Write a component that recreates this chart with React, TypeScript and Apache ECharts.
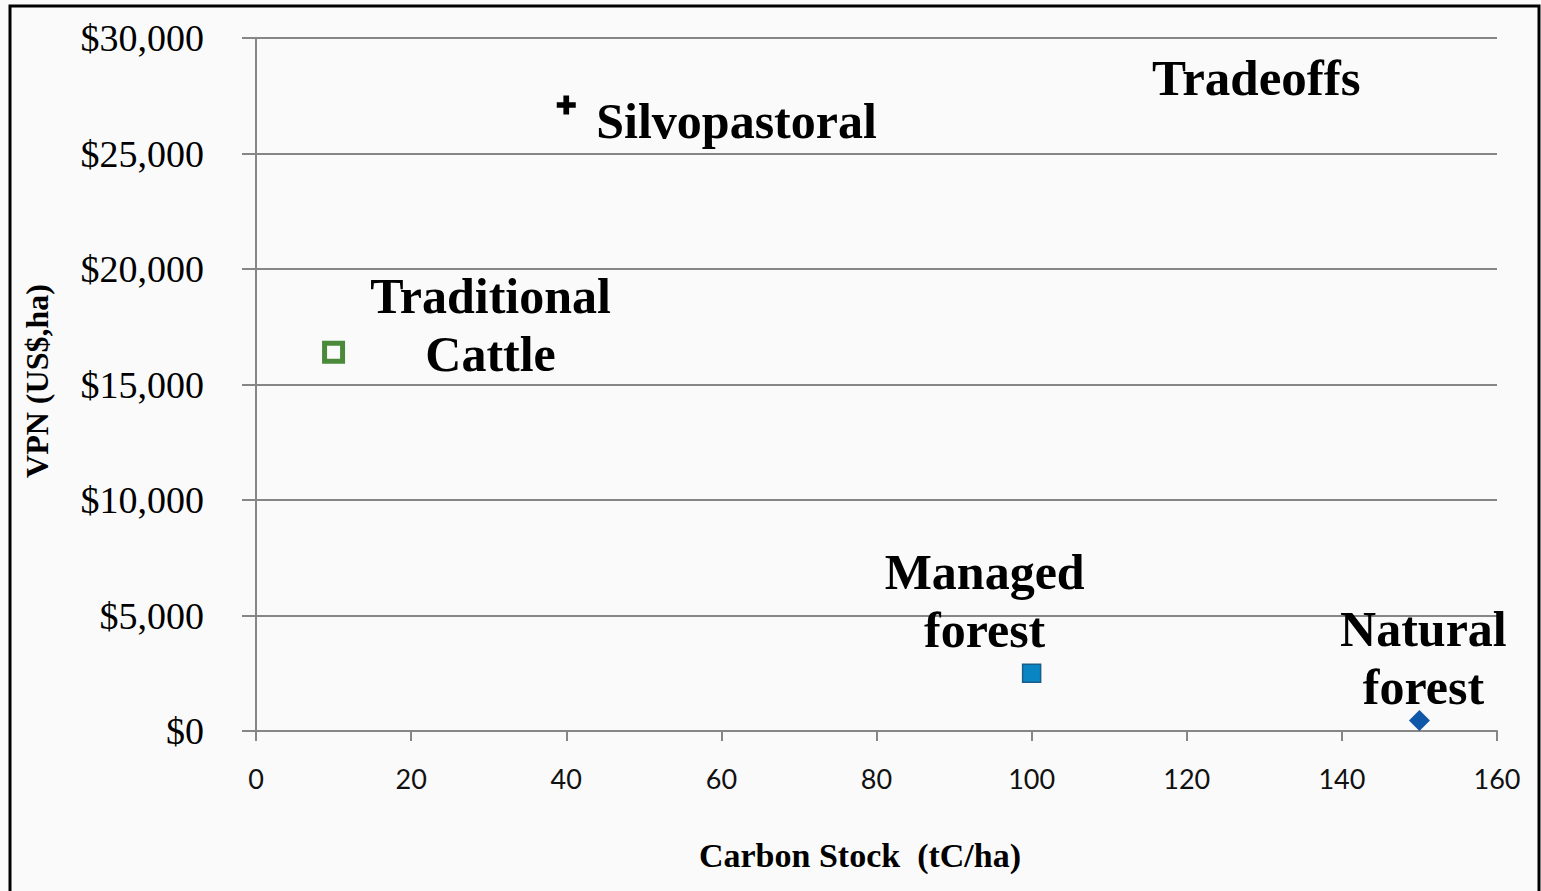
import React, { useEffect, useRef } from "react";
import * as echarts from "echarts";

// ---- data ----
const systems = ["Silvopastoral", "Traditional\nCattle", "Managed\nforest", "Natural\nforest"];
const carbonStock = [40, 10, 100, 150];
const vpnValues = [27100, 16400, 2500, 450];
const xTicks = { min: 0, max: 160, interval: 20 };
const yTicks = { min: 0, max: 30000, interval: 5000 };
const chartTitle = "Tradeoffs";
const xTitle = "Carbon Stock  (tC/ha)";
const yTitle = "VPN (US$,ha)";

const SERIF = "'Liberation Serif', 'Times New Roman', serif";
const PLUS = "path://M7,0H13V7H20V13H13V20H7V13H0V7H7Z";

const markerStyles = [
  { symbol: PLUS, symbolSize: 19, itemStyle: { color: "#000", opacity: 1 } },
  { symbol: "rect", symbolSize: 18, itemStyle: { color: "#fafafa", borderColor: "#4a8a3a", borderWidth: 5, opacity: 1 } },
  { symbol: "rect", symbolSize: 18, itemStyle: { color: "#0a85c4", borderColor: "#1b5d88", borderWidth: 1.5, opacity: 1 } },
  { symbol: "diamond", symbolSize: 21, itemStyle: { color: "#0f57a8", opacity: 1 } },
];
const labelPlacement = [
  { align: "left", offset: [30, 16] },
  { align: "center", offset: [157, -27] },
  { align: "center", offset: [-47, -72] },
  { align: "center", offset: [4, -63] },
];

export default function App() {
  const ref = useRef<HTMLDivElement>(null);
  useEffect(() => {
    if (!ref.current) return;
    const chart = echarts.init(ref.current, null, { renderer: "svg" });
    const series = systems.map((name, i) => ({
      type: "scatter",
      name,
      data: [[carbonStock[i], vpnValues[i]]],
      symbol: markerStyles[i].symbol,
      symbolSize: markerStyles[i].symbolSize,
      itemStyle: markerStyles[i].itemStyle,
      label: {
        show: true,
        formatter: name,
        position: "inside",
        align: labelPlacement[i].align,
        verticalAlign: "middle",
        offset: labelPlacement[i].offset,
        fontFamily: SERIF,
        fontWeight: "bold",
        fontSize: 50,
        lineHeight: 58,
        color: "#000",
        textBorderWidth: 0,
        textBorderColor: "transparent",
        opacity: 1,
      },
      emphasis: { disabled: true },
    }));
    chart.setOption({
      animation: false,
      backgroundColor: "#fafafa",
      grid: { left: 256, right: 44, top: 38, bottom: 160, containLabel: false },
      xAxis: {
        type: "value",
        min: xTicks.min,
        max: xTicks.max,
        interval: xTicks.interval,
        axisLine: { show: true, lineStyle: { color: "#868686", width: 2 } },
        axisTick: { show: true, length: 10, lineStyle: { color: "#868686", width: 2 } },
        splitLine: { show: false },
        axisLabel: { fontFamily: "Lato, 'Open Sans', sans-serif", fontSize: 27, color: "#111", margin: 34 },
      },
      yAxis: {
        type: "value",
        min: yTicks.min,
        max: yTicks.max,
        interval: yTicks.interval,
        axisLine: { show: true, lineStyle: { color: "#868686", width: 2 } },
        axisTick: { show: true, length: 14, lineStyle: { color: "#868686", width: 2 } },
        splitLine: { show: true, lineStyle: { color: "#868686", width: 2 } },
        axisLabel: {
          fontFamily: SERIF,
          fontSize: 38,
          color: "#000",
          margin: 52,
          formatter: (v: number) => "$" + v.toLocaleString("en-US"),
        },
      },
      graphic: [
        { type: "rect", shape: { x: 10, y: 6, width: 1529, height: 920 }, style: { fill: "none", stroke: "#000", lineWidth: 3 }, silent: true },
        { type: "text", x: 1152, y: 78, style: { text: chartTitle, fontFamily: SERIF, fontWeight: "bold", fontSize: 51, fill: "#000", verticalAlign: "middle", align: "left" } },
        { type: "text", x: 860, y: 855, style: { text: xTitle, fontFamily: SERIF, fontWeight: "bold", fontSize: 34, fill: "#000", verticalAlign: "middle", align: "center" } },
        { type: "text", x: 37, y: 381, rotation: Math.PI / 2, style: { text: yTitle, fontFamily: SERIF, fontWeight: "bold", fontSize: 32, fill: "#000", verticalAlign: "middle", align: "center" } },
      ],
      series,
    });
    return () => chart.dispose();
  }, []);
  return <div ref={ref} style={{ position: "fixed", left: 0, top: 0, width: 1541, height: 891 }} />;
}
